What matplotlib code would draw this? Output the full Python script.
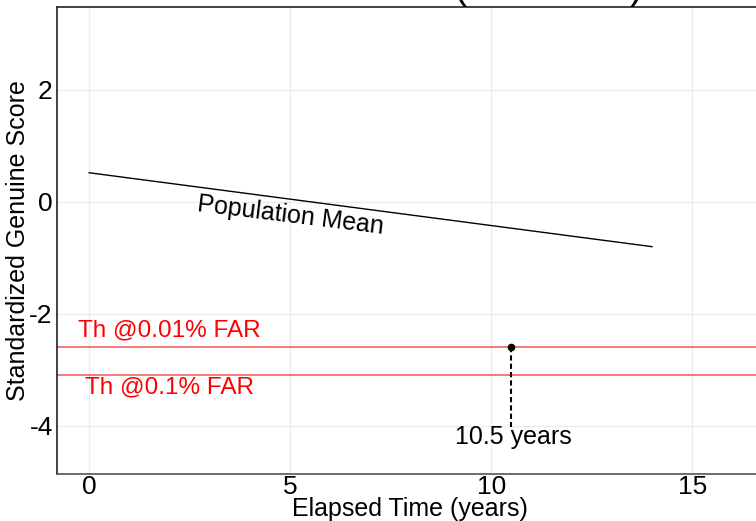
import matplotlib
matplotlib.use("Agg")
import matplotlib.pyplot as plt

plt.rcParams['font.family'] = ['Liberation Sans', 'DejaVu Sans']
plt.rcParams['axes.unicode_minus'] = False

# data
mean_x = [0, 14]
mean_y = [0.52, -0.80]
thresholds = [-2.59, -3.09]
threshold_labels = ["Th @0.01% FAR", "Th @0.1% FAR"]
cross_x = 10.5
cross_y = -2.59
cross_label = "10.5 years"
xticks = [0, 5, 10, 15]
yticks = [-4, -2, 0, 2]

W, H = 756, 521
fig = plt.figure(figsize=(W/100, H/100), dpi=100)
x0, x1 = -0.8, 16.76
ax = fig.add_axes([57/W, 47/H, (x1 - x0) * 40.2 / W, 467/H])
ax.set_xlim(x0, x1)
ax.set_ylim(-4.86, 3.48)

ax.grid(True, color='#ececec', lw=1)
ax.set_axisbelow(True)
ax.set_xticks(xticks)
ax.set_yticks(yticks)
ax.tick_params(axis='both', length=0, labelsize=19, colors='black')
ax.tick_params(axis='x', pad=1)
ax.tick_params(axis='y', pad=3)
for s in ['left', 'top']:
    ax.spines[s].set_color('#222222')
ax.spines['bottom'].set_color('#555555')
for s in ax.spines.values():
    s.set_linewidth(1.2)

ax.plot(mean_x, mean_y, color='black', lw=1)
ax.text(5.0, -0.25, "Population Mean", fontsize=18, rotation=-7,
        ha='center', va='center')

for t in thresholds:
    ax.axhline(t, color='#f06464', lw=1.2)
ax.text(2.0, -2.29, threshold_labels[0], color='red', fontsize=17.5, ha='center', va='center')
ax.text(2.0, -3.32, threshold_labels[1], color='red', fontsize=17.5, ha='center', va='center')

ax.plot([cross_x, cross_x], [cross_y, -4.02], color='black', lw=1.5,
        linestyle=(0, (2.5, 1.5)))
ax.plot([cross_x], [cross_y], 'o', color='black', ms=4.5)
ax.text(10.55, -4.2, cross_label, fontsize=18, ha='center', va='center')

ax.set_xlabel("Elapsed Time (years)", fontsize=18)
ax.xaxis.set_label_coords(0.5, -35/467)
ax.xaxis.label.set_va('center')
ax.set_ylabel("Standardized Genuine Score", fontsize=18)
ax.yaxis.set_label_coords(-39 / (ax.get_position().width * W), 0.5)
ax.yaxis.label.set_va('center')

fig.text(410/W, 1 + 1/H, "ND-Iris Dataset (ICE 2006)", fontsize=28,
         ha='center', va='baseline')

fig.savefig("out.png", dpi=100)
